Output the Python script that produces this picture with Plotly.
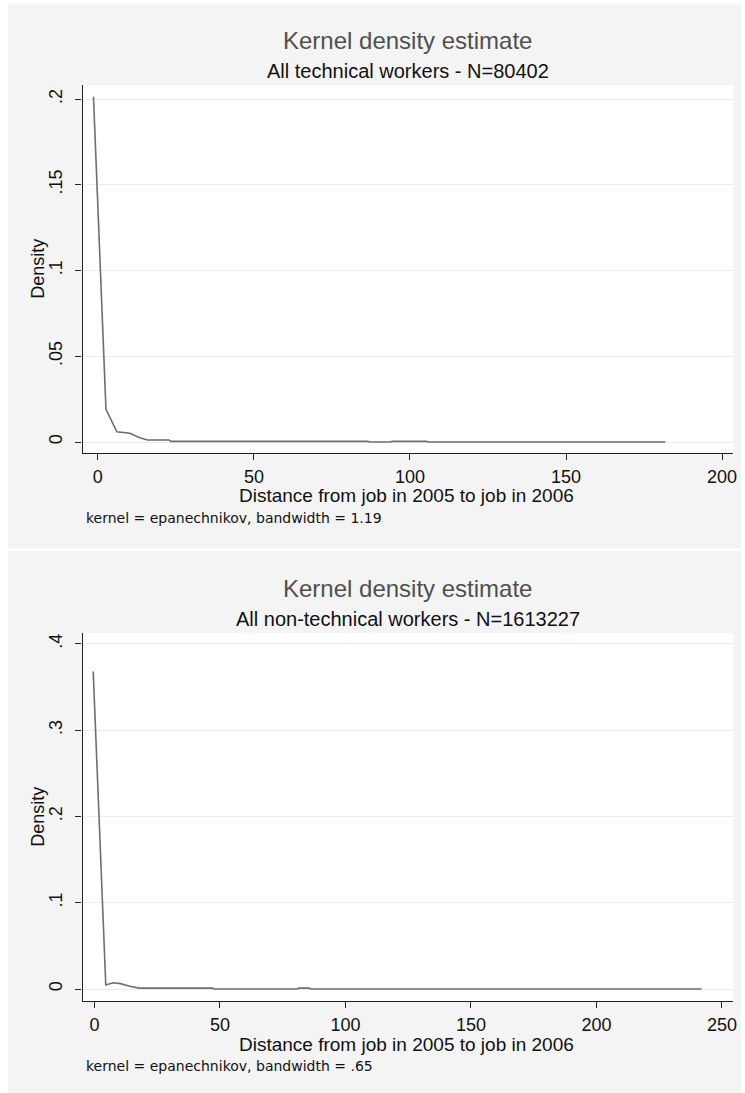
import plotly.graph_objects as go

# ---------------- data ----------------
tech_x = [-1.4, 2.6, 6.1, 10.3, 13.4, 15.9, 22.8, 23.3, 86.5, 86.9, 93.9, 94.3, 105.3, 105.8, 181.8]
tech_y = [0.2013, 0.0191, 0.0060, 0.0051, 0.0025, 0.0012, 0.0012, 0.0004, 0.0004, 0.0, 0.0, 0.0004, 0.0004, 0.0, 0.0]

nontech_x = [-0.5, 4.5, 7.5, 10.3, 14.1, 17.8, 47.1, 47.6, 80.8, 81.3, 85.6, 86.1, 241.9]
nontech_y = [0.368, 0.0046, 0.0072, 0.0062, 0.0031, 0.0010, 0.0010, 0.0, 0.0, 0.0010, 0.0010, 0.0, 0.0]

tech_xticks = [0, 50, 100, 150, 200]
tech_yticks = [0, 0.05, 0.1, 0.15, 0.2]
tech_ylabels = ["0", ".05", ".1", ".15", ".2"]

nontech_xticks = [0, 50, 100, 150, 200, 250]
nontech_yticks = [0, 0.1, 0.2, 0.3, 0.4]
nontech_ylabels = ["0", ".1", ".2", ".3", ".4"]

main_title = "Kernel density estimate"
tech_sub = "All technical workers - N=80402"
nontech_sub = "All non-technical workers - N=1613227"
x_title = "Distance from job in 2005 to job in 2006"
y_title = "Density"
tech_note = "kernel = epanechnikov, bandwidth = 1.19"
nontech_note = "kernel = epanechnikov, bandwidth = .65"

# ---------------- layout helpers ----------------
W, H = 745, 1093


def fx(px):
    return px / W


def fy(py):
    return 1 - py / H


FONT = "Liberation Sans, Arial, Helvetica, sans-serif"
NOTE_FONT = "DejaVu Sans, Verdana, sans-serif"
GRAY_BG = "#f4f4f4"
LINE_COL = "#6e6e6e"

fig = go.Figure()
fig.add_trace(go.Scatter(x=tech_x, y=tech_y, mode="lines",
                         line=dict(color=LINE_COL, width=1.6),
                         xaxis="x", yaxis="y", showlegend=False, hoverinfo="skip"))
fig.add_trace(go.Scatter(x=nontech_x, y=nontech_y, mode="lines",
                         line=dict(color=LINE_COL, width=1.6),
                         xaxis="x2", yaxis="y2", showlegend=False, hoverinfo="skip"))

panels = [
    dict(off=0, sub=tech_sub, note=tech_note),
    dict(off=548, sub=nontech_sub, note=nontech_note),
]

PL, PR, PT, PB = 83, 737, 85, 453

shapes = []
annotations = []
for i, p in enumerate(panels):
    o = p["off"]
    top_bg = 4 if i == 0 else 551
    bot_bg = 548 if i == 0 else 1093
    shapes.append(dict(type="rect", xref="paper", yref="paper",
                       x0=fx(8), x1=fx(745), y0=fy(bot_bg), y1=fy(top_bg),
                       fillcolor=GRAY_BG, line=dict(width=0), layer="below"))
    shapes.append(dict(type="rect", xref="paper", yref="paper",
                       x0=fx(PL), x1=fx(PR), y0=fy(PB + o), y1=fy(PT + o),
                       fillcolor="white", line=dict(width=0), layer="below"))
    annotations += [
        dict(text=main_title, x=fx(410), y=fy(40 + o), xref="paper", yref="paper",
             xanchor="center", yanchor="middle", showarrow=False,
             font=dict(family=FONT, size=24, color="#505050")),
        dict(text=p["sub"], x=fx(410), y=fy(71 + o), xref="paper", yref="paper",
             xanchor="center", yanchor="middle", showarrow=False,
             font=dict(family=FONT, size=20, color="#111111")),
        dict(text=x_title, x=fx(409), y=fy(496 + o), xref="paper", yref="paper",
             xanchor="center", yanchor="middle", showarrow=False,
             font=dict(family=FONT, size=19, color="#111111")),
        dict(text=p["note"], x=fx(84), y=fy(518 + o), xref="paper", yref="paper",
             xanchor="left", yanchor="middle", showarrow=False,
             font=dict(family=NOTE_FONT, size=14, color="#111111")),
        dict(text=y_title, x=fx(38), y=fy((PT + PB) / 2 + o), xref="paper", yref="paper",
             xanchor="center", yanchor="middle", showarrow=False, textangle=-90,
             font=dict(family=FONT, size=18, color="#111111")),
    ]

axis_common = dict(showline=True, linecolor="#222222", linewidth=1.3,
                   ticks="outside", ticklen=6, tickcolor="#222222", tickwidth=1.2,
                   zeroline=False, tickfont=dict(family=FONT, size=18, color="#111111"))

fig.update_layout(
    width=W, height=H, autosize=False,
    margin=dict(l=0, r=0, t=0, b=0),
    paper_bgcolor="white", plot_bgcolor="rgba(0,0,0,0)",
    shapes=shapes, annotations=annotations,
    xaxis=dict(domain=[fx(PL), fx(PR)], range=[-4.9, 203.5], anchor="y",
               tickvals=tech_xticks, showgrid=False, ticklabelstandoff=1, **axis_common),
    yaxis=dict(domain=[fy(PB), fy(PT)], range=[-0.0064, 0.2082], anchor="x",
               tickvals=tech_yticks, ticktext=tech_ylabels, tickangle=-90,
               showgrid=True, gridcolor="#ececec", gridwidth=1, ticklabelstandoff=6, **axis_common),
    xaxis2=dict(domain=[fx(PL), fx(PR)], range=[-4.75, 254.4], anchor="y2",
                tickvals=nontech_xticks, showgrid=False, ticklabelstandoff=1, **axis_common),
    yaxis2=dict(domain=[fy(PB + 548), fy(PT + 548)], range=[-0.0139, 0.4127], anchor="x2",
                tickvals=nontech_yticks, ticktext=nontech_ylabels, tickangle=-90,
                showgrid=True, gridcolor="#ececec", gridwidth=1, ticklabelstandoff=6, **axis_common),
)

fig.write_html("out.html", config={"displayModeBar": False},
               post_script="document.body.style.margin='0';document.body.style.overflow='hidden';")
